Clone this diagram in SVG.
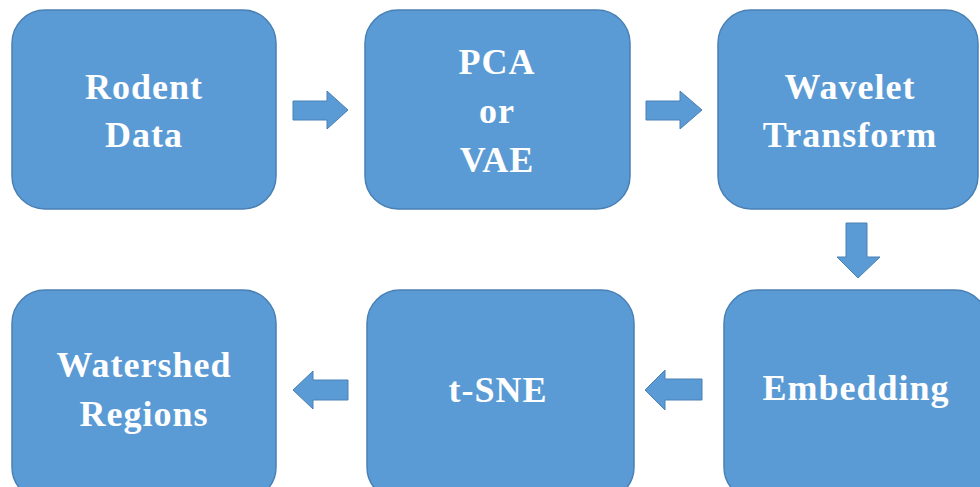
<svg xmlns="http://www.w3.org/2000/svg" width="980" height="487" viewBox="0 0 980 487">
<style>
.box{fill:#5b9bd5;stroke:#4a80b4;stroke-width:1.5}
.arr{fill:#5b9bd5;stroke:#4a80b4;stroke-width:1}
.t{font-family:"Liberation Serif","Times New Roman",serif;font-weight:bold;font-size:36px;fill:#ffffff;text-anchor:middle;letter-spacing:1px}
</style>
<rect width="980" height="487" fill="#ffffff"/>
<g id="node-rodent">
<rect class="box" x="12" y="10" width="264" height="199" rx="33"/>
<text class="t" x="144" y="99">Rodent</text>
<text class="t" x="144" y="147">Data</text>
</g>
<g id="node-pca">
<rect class="box" x="365" y="10" width="265" height="199" rx="33"/>
<text class="t" x="497" y="74">PCA</text>
<text class="t" x="497" y="123">or</text>
<text class="t" x="497" y="172">VAE</text>
</g>
<g id="node-wavelet">
<rect class="box" x="718" y="10" width="260" height="199" rx="33"/>
<text class="t" x="850" y="99">Wavelet</text>
<text class="t" x="850" y="147">Transform</text>
</g>
<g id="node-embedding">
<rect class="box" x="724" y="290" width="264" height="210" rx="33"/>
<text class="t" x="856" y="400">Embedding</text>
</g>
<g id="node-tsne">
<rect class="box" x="367" y="290" width="267" height="210" rx="33"/>
<text class="t" x="498" y="402">t-SNE</text>
</g>
<g id="node-watershed">
<rect class="box" x="12" y="290" width="264" height="210" rx="33"/>
<text class="t" x="144" y="377">Watershed</text>
<text class="t" x="144" y="426">Regions</text>
</g>
<g id="connectors">
<polygon class="arr" points="293,101 327,101 327,91 348,110 327,129 327,120 293,120"/>
<polygon class="arr" points="646,101 680,101 680,91 702,110 680,129 680,120 646,120"/>
<polygon class="arr" points="846,223 867,223 867,257 880,257 858,278 837,257 846,257"/>
<polygon class="arr" points="702,379 665,379 665,370 645,390 665,410 665,400 702,400"/>
<polygon class="arr" points="348,380 313,380 313,371 293,390 313,409 313,400 348,400"/>
</g>
</svg>
